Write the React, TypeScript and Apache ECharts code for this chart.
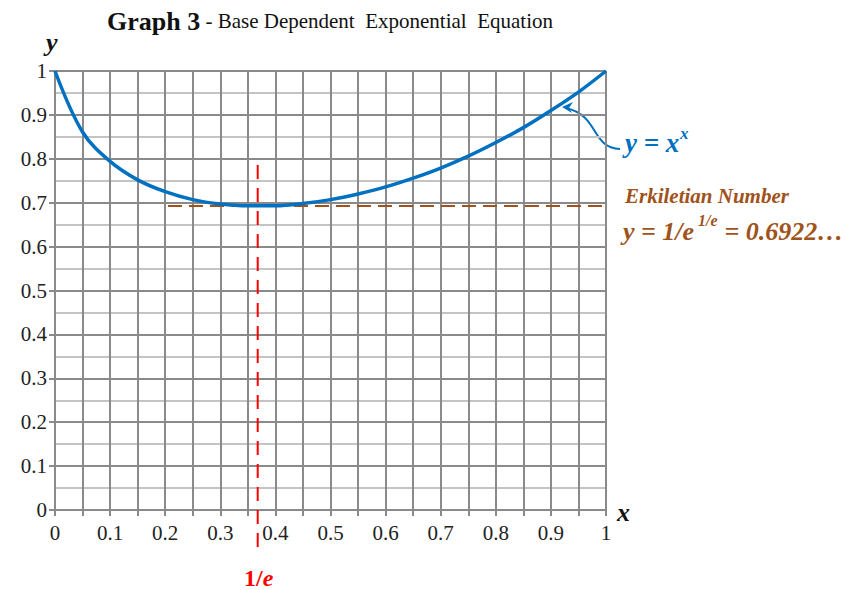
import React, { useEffect, useRef } from "react";
import * as echarts from "echarts";

// y = x^x sampled every 0.05
const xs = [0, 0.05, 0.1, 0.15, 0.2, 0.25, 0.3, 0.35, 0.4, 0.45, 0.5, 0.55, 0.6, 0.65, 0.7, 0.75, 0.8, 0.85, 0.9, 0.95, 1];
const ys = [1, 0.861, 0.794, 0.752, 0.725, 0.707, 0.697, 0.693, 0.693, 0.698, 0.707, 0.72, 0.736, 0.756, 0.779, 0.806, 0.837, 0.871, 0.91, 0.952, 1];

// Erkiletian number line and the 1/e marker
const erkiletianY = 0.6922;
const erkiletianSpan = [0.205, 1.03];
const invE = 0.3679;
const invESpan = [0.786, -0.087];

const SERIF = "'Liberation Serif', 'Times New Roman', serif";
const DARK = "#8a8a8a";
const LIGHT = "#c4c4c4";
const BLUE = "#0070C0";
const BROWN = "#A0521A";
const RED = "#FF0000";

const fmt = (v: number) => (Math.abs(v) < 1e-9 ? "0" : Math.abs(v - 1) < 1e-9 ? "1" : v.toFixed(1));

const txt = (x: number, y: number, text: string, size: number, fill: string, extra: any = {}) => ({
  type: "text",
  x,
  y,
  style: {
    text,
    fontFamily: SERIF,
    fontSize: size,
    fontWeight: "bold",
    fontStyle: "italic",
    fill,
    verticalAlign: "middle",
    ...extra,
  },
});

export default function App() {
  const ref = useRef<HTMLDivElement>(null);
  useEffect(() => {
    document.body.style.margin = "0";
    const chart = echarts.init(ref.current!, null, { renderer: "svg" });
    const curve = xs.map((x, i) => [x, ys[i]]);
    chart.setOption({
      animation: false,
      grid: { left: 55, right: 240, top: 71, bottom: 80 },
      xAxis: {
        type: "value",
        min: 0,
        max: 1,
        interval: 0.1,
        axisLine: { show: true, lineStyle: { color: DARK, width: 2 } },
        axisTick: { show: true, length: 6, lineStyle: { color: DARK, width: 2 } },
        minorTick: { show: true, splitNumber: 2, length: 6, lineStyle: { color: DARK, width: 2 } },
        splitLine: { show: true, lineStyle: { color: DARK, width: 2 } },
        minorSplitLine: { show: true, lineStyle: { color: DARK, width: 2 } },
        axisLabel: { formatter: fmt, fontFamily: SERIF, fontSize: 21, color: "#222", margin: 12 },
      },
      yAxis: {
        type: "value",
        min: 0,
        max: 1,
        interval: 0.1,
        axisLine: { show: true, lineStyle: { color: DARK, width: 2 } },
        axisTick: { show: true, length: 6, lineStyle: { color: DARK, width: 2 } },
        splitLine: { show: true, lineStyle: { color: DARK, width: 2 } },
        minorTick: { show: false, splitNumber: 2 },
        minorSplitLine: { show: true, lineStyle: { color: LIGHT, width: 2 } },
        axisLabel: { formatter: fmt, fontFamily: SERIF, fontSize: 21, color: "#222", margin: 8 },
      },
      series: [
        {
          type: "line",
          data: [[erkiletianSpan[0], erkiletianY], [erkiletianSpan[1], erkiletianY]],
          clip: false,
          symbol: "none",
          lineStyle: { color: BROWN, width: 2, type: [14, 7] },
          z: 3,
        },
        {
          type: "line",
          data: [[invE, invESpan[0]], [invE, invESpan[1]]],
          clip: false,
          symbol: "none",
          lineStyle: { color: RED, width: 2, type: [14, 9] },
          z: 3,
        },
        {
          type: "line",
          data: curve,
          smooth: 0.35,
          symbol: "none",
          lineStyle: { color: BLUE, width: 3.5 },
          z: 4,
        },
      ],
      graphic: [
        {
          type: "text",
          x: 107,
          y: 21,
          style: {
            text: "{b|Graph 3}{n| - Base Dependent  Exponential  Equation}",
            verticalAlign: "middle",
            rich: {
              b: { fontFamily: SERIF, fontSize: 26, fontWeight: "bold", fill: "#111" },
              n: { fontFamily: SERIF, fontSize: 21, fill: "#111" },
            },
          },
        },
        txt(46, 42, "y", 26, "#111"),
        txt(617, 512, "x", 26, "#111"),
        // y = x^x label and arrow
        txt(625, 143, "y = x", 27, BLUE),
        txt(680, 133, "x", 17, BLUE),
        {
          type: "bezierCurve",
          shape: { x1: 620, y1: 149, cpx1: 590, cpx2: 600, cpy1: 147, cpy2: 116, x2: 566, y2: 108 },
          style: { stroke: BLUE, lineWidth: 2, fill: "none" },
        },
        {
          type: "polygon",
          shape: { points: [[562, 107], [573, 102], [569, 108], [572, 113]] },
          style: { fill: BLUE },
        },
        // Erkiletian number labels
        txt(625, 196, "Erkiletian Number", 21, BROWN),
        txt(623, 231, "y = 1/e", 26, BROWN),
        txt(698, 220, "1/e", 16, BROWN),
        txt(718, 231, " = 0.6922…", 26, BROWN),
        // 1/e marker label
        {
          type: "text",
          x: 244,
          y: 578,
          style: {
            text: "{a|1/}{b|e}",
            verticalAlign: "middle",
            rich: {
              a: { fontFamily: SERIF, fontSize: 24, fontWeight: "bold", fill: RED },
              b: { fontFamily: SERIF, fontSize: 24, fontWeight: "bold", fontStyle: "italic", fill: RED },
            },
          },
        },
      ],
    });
    return () => chart.dispose();
  }, []);
  return <div ref={ref} style={{ width: 846, height: 590 }} />;
}
